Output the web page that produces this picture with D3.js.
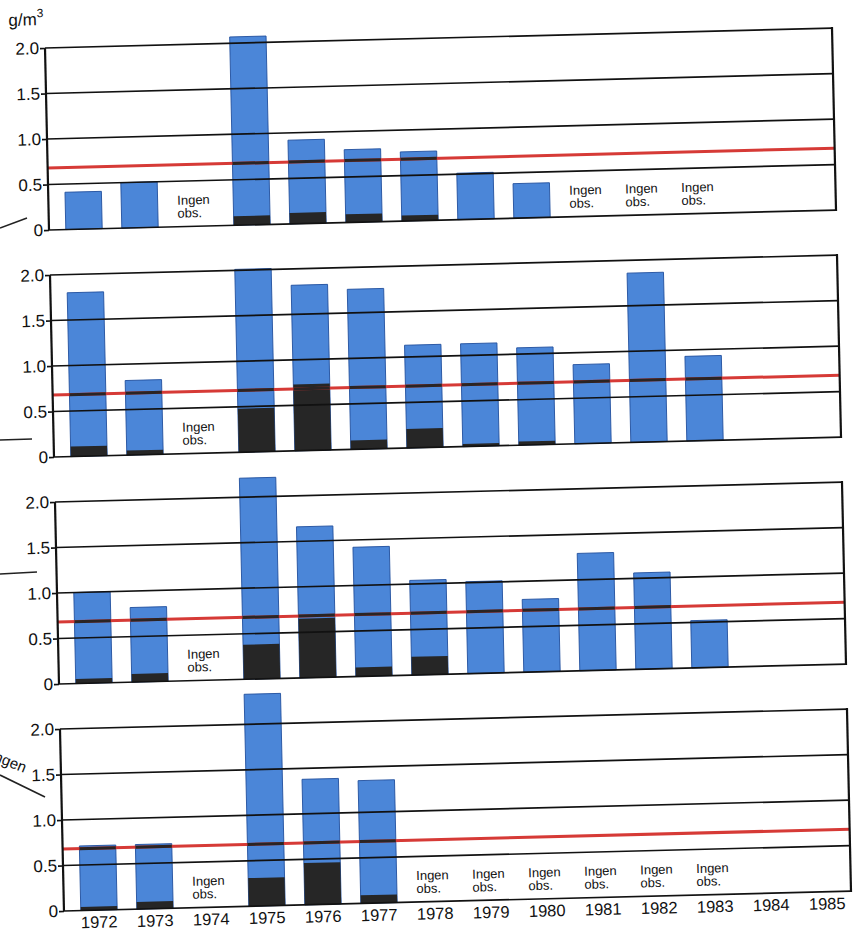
<!DOCTYPE html>
<html>
<head>
<meta charset="utf-8">
<script src="https://cdn.jsdelivr.net/npm/d3@7.9.0/dist/d3.min.js"></script>
<style>
    html, body { margin: 0; background: #fff; }
    svg { display: block; }
</style>
</head>
<body>
<svg id="chart" width="855" height="932"></svg>
<script>
// years on the x axis
var years = ['1972', '1973', '1974', '1975', '1976', '1977', '1978',
    '1979', '1980', '1981', '1982', '1983', '1984', '1985']
var yTicks = [0, 0.5, 1.0, 1.5, 2.0]
var refLevel = 0.68

// null = no bar (no observation / not plotted)
var p1Total = [0.41, 0.50, null, 2.07, 0.92, 0.80, 0.76, 0.51, 0.38, null, null, null, null, null]
var p1Black = [0, 0, null, 0.10, 0.12, 0.09, 0.06, 0, 0, null, null, null, null, null]
var p1NoObs = ['1974', '1981', '1982', '1983']

var p2Total = [1.80, 0.82, null, 2.01, 1.82, 1.76, 1.13, 1.13, 1.07, 0.87, 1.86, 0.93, null, null]
var p2Black = [0.11, 0.05, null, 0.48, 0.73, 0.10, 0.21, 0.03, 0.04, 0, 0, 0, null, null]
var p2NoObs = ['1974']

var p3Total = [1.00, 0.82, null, 2.21, 1.66, 1.42, 1.04, 1.01, 0.80, 1.29, 1.06, 0.52, null, null]
var p3Black = [0.05, 0.09, null, 0.38, 0.65, 0.10, 0.20, 0, 0, 0, 0, 0, null, null]
var p3NoObs = ['1974']

var p4Total = [0.71, 0.71, null, 2.33, 1.38, 1.35, null, null, null, null, null, null, null, null]
var p4Black = [0.04, 0.08, null, 0.31, 0.46, 0.09, null, null, null, null, null, null, null, null]
var p4NoObs = ['1974', '1978', '1979', '1980', '1981', '1982', '1983']

;(function () {
    var FONT = "'Liberation Sans', Arial, Helvetica, sans-serif"
    var BLUE = '#4b86d8'
    var BLACK = '#262626'
    var RED = '#d63a36'

    var X0 = 45
    var X1 = 832
    var PANEL_TOP = 48
    var PANEL_H = 182
    var PANEL_STEP = 227

    var panels = [
        { total: p1Total, black: p1Black, none: p1NoObs },
        { total: p2Total, black: p2Black, none: p2NoObs },
        { total: p3Total, black: p3Black, none: p3NoObs },
        { total: p4Total, black: p4Black, none: p4NoObs },
    ]

    var svg = d3.select('#chart')

    var x = d3.scaleBand().domain(years).range([52, 836]).paddingInner(0.35).paddingOuter(0.175)
    var bw = x.bandwidth()

    // the printed page was scanned slightly skewed
    var root = svg.append('g').attr('transform', 'matrix(1,-0.0253,0.022,1,-1.056,1.1385)')

    // unit label
    var unit = root.append('text')
        .attr('x', 9)
        .attr('y', 25)
        .attr('font-family', FONT)
        .attr('font-size', 17)
        .attr('fill', '#111')
    unit.append('tspan').text('g/m')
    unit.append('tspan').attr('font-size', 12).attr('dy', -8).text('3')

    panels.forEach(function (p, i) {
        var top = PANEL_TOP + i * PANEL_STEP
        var y = d3.scaleLinear().domain([0, 2]).range([top + PANEL_H, top])
        var g = root.append('g')

        var rows = years
            .map(function (yr, j) {
                return { year: yr, total: p.total[j], black: p.black[j] }
            })
            .filter(function (d) {
                return d.total != null
            })

        g.selectAll('rect.tot')
            .data(rows)
            .join('rect')
            .attr('class', 'tot')
            .attr('x', function (d) { return x(d.year) })
            .attr('width', bw)
            .attr('y', function (d) { return y(d.total) })
            .attr('height', function (d) { return y(0) - y(d.total) })
            .attr('fill', BLUE)
            .attr('stroke', '#22509e')
            .attr('stroke-width', 0.9)

        g.selectAll('rect.blk')
            .data(rows.filter(function (d) { return d.black > 0 }))
            .join('rect')
            .attr('class', 'blk')
            .attr('x', function (d) { return x(d.year) })
            .attr('width', bw)
            .attr('y', function (d) { return y(d.black) })
            .attr('height', function (d) { return y(0) - y(d.black) })
            .attr('fill', BLACK)

        // grid lines run across the bars
        g.selectAll('line.grid')
            .data(yTicks)
            .join('line')
            .attr('class', 'grid')
            .attr('x1', X0)
            .attr('x2', X1)
            .attr('y1', function (d) { return y(d) })
            .attr('y2', function (d) { return y(d) })
            .attr('stroke', '#111')
            .attr('stroke-width', 1.7)

        // reference level
        g.append('line')
            .attr('x1', X0)
            .attr('x2', X1)
            .attr('y1', y(refLevel))
            .attr('y2', y(refLevel))
            .attr('stroke', RED)
            .attr('stroke-width', 3)

        // where the red line crosses a bar the print turns dark
        g.selectAll('line.over')
            .data(rows.filter(function (d) { return d.total > refLevel }))
            .join('line')
            .attr('class', 'over')
            .attr('x1', function (d) { return x(d.year) })
            .attr('x2', function (d) { return x(d.year) + bw })
            .attr('y1', y(refLevel))
            .attr('y2', y(refLevel))
            .attr('stroke', '#2a2424')
            .attr('stroke-width', 3)

        // frame sides
        g.append('line')
            .attr('x1', X0).attr('x2', X0)
            .attr('y1', y(2)).attr('y2', y(0))
            .attr('stroke', '#111').attr('stroke-width', 2.2)
        g.append('line')
            .attr('x1', X1).attr('x2', X1)
            .attr('y1', y(2) - 1).attr('y2', y(0) + 1)
            .attr('stroke', '#111').attr('stroke-width', 2.2)

        var ax = g.append('g')
            .attr('transform', 'translate(' + X0 + ',0)')
            .call(
                d3.axisLeft(y)
                    .tickValues(yTicks)
                    .tickSize(5)
                    .tickPadding(1)
                    .tickFormat(function (d) { return d === 0 ? '0' : d.toFixed(1) })
            )
        ax.select('.domain').remove()
        ax.selectAll('line').attr('stroke', '#111').attr('stroke-width', 1.6)
        ax.selectAll('text')
            .attr('font-family', FONT)
            .attr('font-size', 17)
            .attr('fill', '#111')

        // "Ingen obs." notes
        var notes = g.selectAll('text.none')
            .data(p.none)
            .join('text')
            .attr('class', 'none')
            .attr('font-family', FONT)
            .attr('font-size', 13)
            .attr('fill', '#111')
        notes.append('tspan')
            .attr('x', function (d) { return x(d) })
            .attr('y', y(0) - 22)
            .text('Ingen')
        notes.append('tspan')
            .attr('x', function (d) { return x(d) })
            .attr('y', y(0) - 9)
            .text('obs.')

        if (i === panels.length - 1) {
            var xa = g.append('g')
                .attr('transform', 'translate(0,' + y(0) + ')')
                .call(d3.axisBottom(x).tickSize(0).tickPadding(6))
            xa.select('.domain').remove()
            xa.selectAll('text')
                .attr('font-family', FONT)
                .attr('font-size', 16.5)
                .attr('fill', '#111')
        }
    })

    // stray marks from the neighbouring page in the scan
    var stray = svg.append('g').attr('stroke', '#222').attr('stroke-width', 1.6)
    stray.append('line').attr('x1', 0).attr('y1', 228).attr('x2', 27).attr('y2', 218)
    stray.append('line').attr('x1', 0).attr('y1', 440).attr('x2', 32).attr('y2', 439)
    stray.append('line').attr('x1', 0).attr('y1', 574).attr('x2', 37).attr('y2', 572)
    stray.append('line').attr('x1', 0).attr('y1', 775).attr('x2', 45).attr('y2', 797)
    svg.append('text')
        .attr('transform', 'translate(24,773) rotate(22)')
        .attr('text-anchor', 'end')
        .attr('font-family', FONT)
        .attr('font-size', 15)
        .attr('fill', '#111')
        .text('Ingen')
})()
</script>
</body>
</html>
